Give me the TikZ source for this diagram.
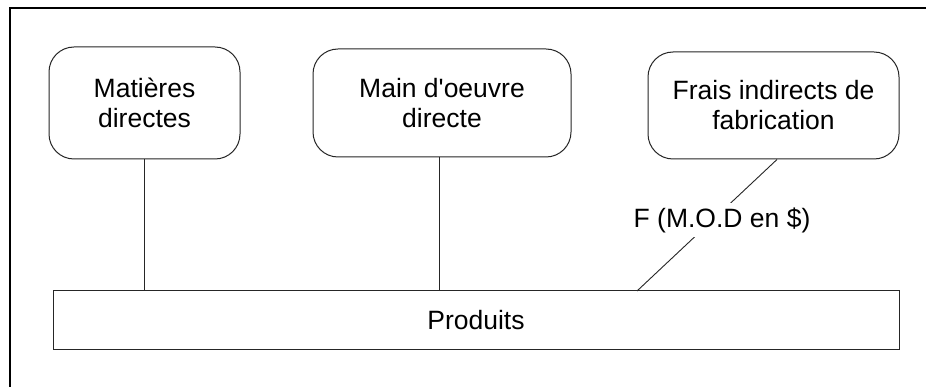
\documentclass[tikz,border=0pt]{standalone}
\usepackage{fontspec}
\setmainfont{Liberation Sans}[Ligatures=TeXOff]
\begin{document}
\begin{tikzpicture}[x=1pt,y=-1pt,
  lbltext/.style={font=\fontsize{26.5}{30}\selectfont},
  roundbox/.style={draw=black!85, line width=1pt, rounded corners=25pt, align=center, inner sep=0pt, lbltext},
  prodbox/.style={draw=black!85, line width=1pt, align=center, inner sep=0pt, lbltext},
  link/.style={draw=black!85, line width=0.9pt},
  frameline/.style={draw=black, line width=2pt}]
\useasboundingbox (0,0) rectangle (926,387);
\fill[white] (0,0) rectangle (926,387);
% frame (top and left edges visible)
\draw[frameline] (926,7.7) -- (9.7,7.7) -- (9.7,387);
% nodes
\node[roundbox, minimum width=191pt, minimum height=112pt] (mat) at (144.5,103) {Matières\\directes};
\node[roundbox, minimum width=258pt, minimum height=108pt] (mod) at (442,103) {Main d'oeuvre\\directe};
\node[roundbox, minimum width=251pt, minimum height=107pt] (fif) at (773.5,105.5) {Frais indirects de\\fabrication};
\node[prodbox, minimum width=846pt, minimum height=58pt] (prod) at (476,320) {Produits};
\coordinate (c3) at (637,291);
\coordinate (m2) at (439,157);
% connectors
\draw[link] (mat.south) -- (mat.south |- prod.north);
\draw[link] (m2) -- (m2 |- prod.north);
\draw[link] ([xshift=3.5pt]fif.south) -- (c3);
\node[lbltext, fill=white, inner sep=4pt] (lbl) at (722,220) {F (M.O.D en \$)};
\end{tikzpicture}
\end{document}
